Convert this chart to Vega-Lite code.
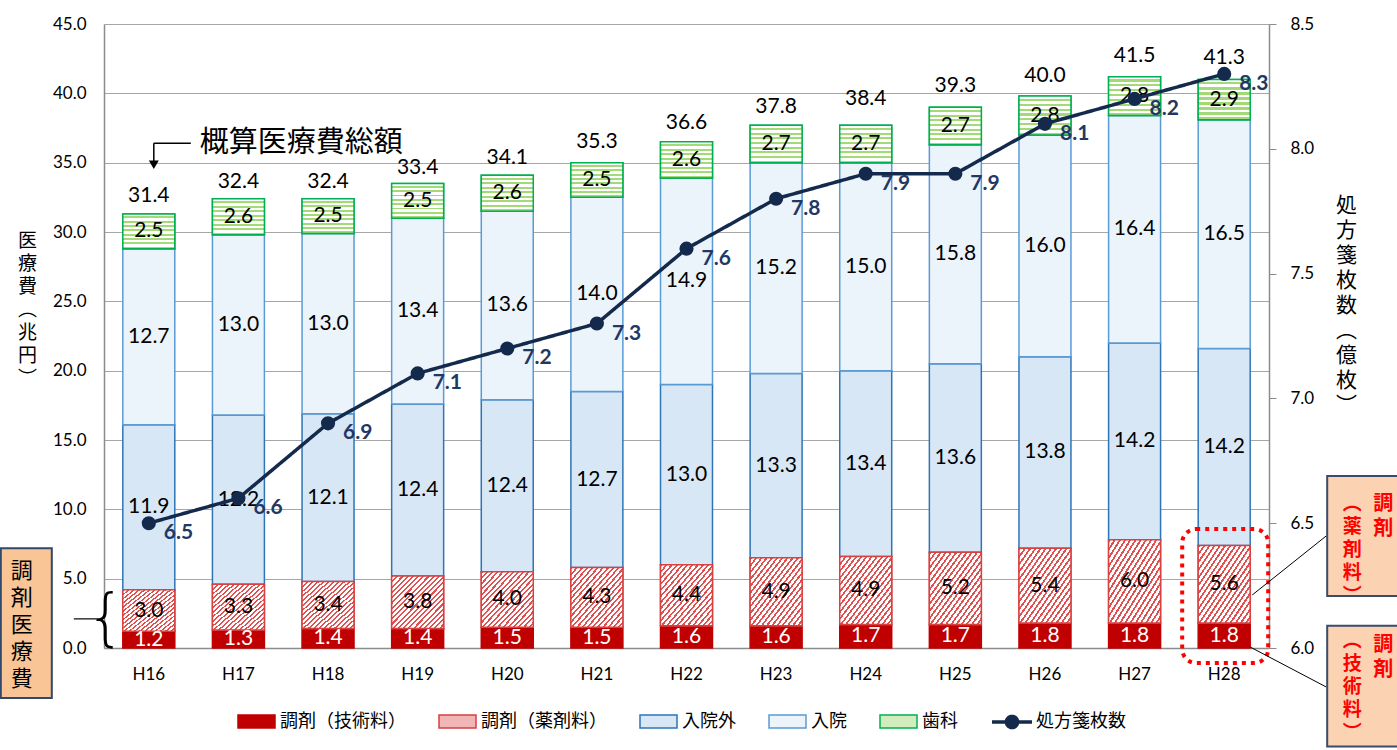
{
  "$schema": "https://vega.github.io/schema/vega-lite/v6.json",
  "width": 1165,
  "height": 624,
  "autosize": {"type": "none"},
  "padding": {"left": 104, "top": 24, "right": 128, "bottom": 102},
  "background": "white",
  "datasets": {
    "bars": [
      {"year":"H16","series":"調剤（技術料）","value":1.2,"ord":1},{"year":"H16","series":"調剤（薬剤料）","value":3.0,"ord":2},{"year":"H16","series":"入院外","value":11.9,"ord":3},{"year":"H16","series":"入院","value":12.7,"ord":4},{"year":"H16","series":"歯科","value":2.5,"ord":5},
      {"year":"H17","series":"調剤（技術料）","value":1.3,"ord":1},{"year":"H17","series":"調剤（薬剤料）","value":3.3,"ord":2},{"year":"H17","series":"入院外","value":12.2,"ord":3},{"year":"H17","series":"入院","value":13.0,"ord":4},{"year":"H17","series":"歯科","value":2.6,"ord":5},
      {"year":"H18","series":"調剤（技術料）","value":1.4,"ord":1},{"year":"H18","series":"調剤（薬剤料）","value":3.4,"ord":2},{"year":"H18","series":"入院外","value":12.1,"ord":3},{"year":"H18","series":"入院","value":13.0,"ord":4},{"year":"H18","series":"歯科","value":2.5,"ord":5},
      {"year":"H19","series":"調剤（技術料）","value":1.4,"ord":1},{"year":"H19","series":"調剤（薬剤料）","value":3.8,"ord":2},{"year":"H19","series":"入院外","value":12.4,"ord":3},{"year":"H19","series":"入院","value":13.4,"ord":4},{"year":"H19","series":"歯科","value":2.5,"ord":5},
      {"year":"H20","series":"調剤（技術料）","value":1.5,"ord":1},{"year":"H20","series":"調剤（薬剤料）","value":4.0,"ord":2},{"year":"H20","series":"入院外","value":12.4,"ord":3},{"year":"H20","series":"入院","value":13.6,"ord":4},{"year":"H20","series":"歯科","value":2.6,"ord":5},
      {"year":"H21","series":"調剤（技術料）","value":1.5,"ord":1},{"year":"H21","series":"調剤（薬剤料）","value":4.3,"ord":2},{"year":"H21","series":"入院外","value":12.7,"ord":3},{"year":"H21","series":"入院","value":14.0,"ord":4},{"year":"H21","series":"歯科","value":2.5,"ord":5},
      {"year":"H22","series":"調剤（技術料）","value":1.6,"ord":1},{"year":"H22","series":"調剤（薬剤料）","value":4.4,"ord":2},{"year":"H22","series":"入院外","value":13.0,"ord":3},{"year":"H22","series":"入院","value":14.9,"ord":4},{"year":"H22","series":"歯科","value":2.6,"ord":5},
      {"year":"H23","series":"調剤（技術料）","value":1.6,"ord":1},{"year":"H23","series":"調剤（薬剤料）","value":4.9,"ord":2},{"year":"H23","series":"入院外","value":13.3,"ord":3},{"year":"H23","series":"入院","value":15.2,"ord":4},{"year":"H23","series":"歯科","value":2.7,"ord":5},
      {"year":"H24","series":"調剤（技術料）","value":1.7,"ord":1},{"year":"H24","series":"調剤（薬剤料）","value":4.9,"ord":2},{"year":"H24","series":"入院外","value":13.4,"ord":3},{"year":"H24","series":"入院","value":15.0,"ord":4},{"year":"H24","series":"歯科","value":2.7,"ord":5},
      {"year":"H25","series":"調剤（技術料）","value":1.7,"ord":1},{"year":"H25","series":"調剤（薬剤料）","value":5.2,"ord":2},{"year":"H25","series":"入院外","value":13.6,"ord":3},{"year":"H25","series":"入院","value":15.8,"ord":4},{"year":"H25","series":"歯科","value":2.7,"ord":5},
      {"year":"H26","series":"調剤（技術料）","value":1.8,"ord":1},{"year":"H26","series":"調剤（薬剤料）","value":5.4,"ord":2},{"year":"H26","series":"入院外","value":13.8,"ord":3},{"year":"H26","series":"入院","value":16.0,"ord":4},{"year":"H26","series":"歯科","value":2.8,"ord":5},
      {"year":"H27","series":"調剤（技術料）","value":1.8,"ord":1},{"year":"H27","series":"調剤（薬剤料）","value":6.0,"ord":2},{"year":"H27","series":"入院外","value":14.2,"ord":3},{"year":"H27","series":"入院","value":16.4,"ord":4},{"year":"H27","series":"歯科","value":2.8,"ord":5},
      {"year":"H28","series":"調剤（技術料）","value":1.8,"ord":1},{"year":"H28","series":"調剤（薬剤料）","value":5.6,"ord":2},{"year":"H28","series":"入院外","value":14.2,"ord":3},{"year":"H28","series":"入院","value":16.5,"ord":4},{"year":"H28","series":"歯科","value":2.9,"ord":5}
    ],
    "main": [
      {"year":"H16","total":31.4,"rx":6.5},{"year":"H17","total":32.4,"rx":6.6},{"year":"H18","total":32.4,"rx":6.9},
      {"year":"H19","total":33.4,"rx":7.1},{"year":"H20","total":34.1,"rx":7.2},{"year":"H21","total":35.3,"rx":7.3},
      {"year":"H22","total":36.6,"rx":7.6},{"year":"H23","total":37.8,"rx":7.8},{"year":"H24","total":38.4,"rx":7.9},
      {"year":"H25","total":39.3,"rx":7.9},{"year":"H26","total":40.0,"rx":8.1},{"year":"H27","total":41.5,"rx":8.2},
      {"year":"H28","total":41.3,"rx":8.3}
    ]
  },
  "config": {
    "view": {"stroke": null},
    "axis": {"labelFont": "Lato", "labelFontSize": 17, "labelColor": "#000000", "domainColor": "#8C8C8C", "domainWidth": 1.5, "gridColor": "#A6A6A6", "tickColor": "#8C8C8C", "titleFont": "Noto Sans CJK JP", "titleColor": "#000000", "titleFontWeight": "normal"},
    "legend": {"labelFont": "Noto Sans CJK JP", "labelFontSize": 18, "labelColor": "#000000"}
  },
  "resolve": {"scale": {"y": "independent"}, "axis": {"y": "independent"}},
  "layer": [
    {
      "layer": [
        {
          "data": {"name": "bars"},
          "mark": {"type": "bar", "strokeWidth": 1.5},
          "encoding": {
            "x": {"field": "year", "type": "nominal", "title": null, "scale": {"paddingInner": 0.42, "paddingOuter": 0.21}, "axis": {"labelAngle": 0, "ticks": false, "labelPadding": 18, "labelFontSize": 17}},
            "y": {"field": "value", "type": "quantitative", "stack": "zero", "scale": {"domain": [0, 45], "nice": false},
              "axis": {"orient": "left", "values": [0,5,10,15,20,25,30,35,40,45], "format": ".1f", "ticks": false, "labelPadding": 18, "grid": true, "domain": true,
                "title": ["医","療","費","︵","兆","円","︶"], "titleAngle": 0, "titleFontSize": 19, "titleLineHeight": 23, "titleX": -77, "titleY": 216, "titleBaseline": "middle", "titleAlign": "center"}},
            "fill": {"field": "series", "type": "nominal",
              "scale": {"domain": ["調剤（技術料）","調剤（薬剤料）","入院外","入院","歯科"], "range": ["#C00000", "#F2B5B5", "#D8E7F6", "#EBF3FB", "#D2ECBE"]},
              "legend": {"orient": "none", "legendX": 133, "legendY": 678, "direction": "horizontal", "title": null, "symbolType": "M-1,-0.35H1V0.35H-1Z", "symbolSize": 1369, "symbolStrokeWidth": 1.5, "labelOffset": 4, "columnPadding": 30}},
            "stroke": {"field": "series", "type": "nominal",
              "scale": {"domain": ["調剤（技術料）","調剤（薬剤料）","入院外","入院","歯科"], "range": ["#C00000","#D94040","#2E75B6","#5B9BD5","#00B050"]},
              "legend": {"orient": "none", "legendX": 133, "legendY": 678, "direction": "horizontal", "title": null, "symbolType": "M-1,-0.35H1V0.35H-1Z", "symbolSize": 1369, "symbolStrokeWidth": 1.5, "labelOffset": 4, "columnPadding": 30}},
            "order": {"field": "ord", "type": "quantitative"}
          }
        },
        {
          "data": {"name": "bars"},
          "mark": {"type": "bar", "strokeWidth": 1.5},
          "encoding": {
            "x": {"field": "year", "type": "nominal", "title": null},
            "y": {"field": "value", "type": "quantitative", "stack": "zero"},
            "detail": {"field": "series", "type": "nominal"},
            "order": {"field": "ord", "type": "quantitative"},
            "fill": {"condition": [
              {"test": "datum.series === '調剤（薬剤料）'", "value": {"gradient": "linear", "x1": 0, "y1": 0, "x2": 1, "y2": 1, "stops": [
                {"offset":0,"color":"#E05050"},{"offset":0.02,"color":"#E05050"},{"offset":0.02,"color":"#FFFFFF"},{"offset":0.05,"color":"#FFFFFF"},
                {"offset":0.05,"color":"#E05050"},{"offset":0.07,"color":"#E05050"},{"offset":0.07,"color":"#FFFFFF"},{"offset":0.10,"color":"#FFFFFF"},
                {"offset":0.10,"color":"#E05050"},{"offset":0.12,"color":"#E05050"},{"offset":0.12,"color":"#FFFFFF"},{"offset":0.15,"color":"#FFFFFF"},
                {"offset":0.15,"color":"#E05050"},{"offset":0.17,"color":"#E05050"},{"offset":0.17,"color":"#FFFFFF"},{"offset":0.20,"color":"#FFFFFF"},
                {"offset":0.20,"color":"#E05050"},{"offset":0.22,"color":"#E05050"},{"offset":0.22,"color":"#FFFFFF"},{"offset":0.25,"color":"#FFFFFF"},
                {"offset":0.25,"color":"#E05050"},{"offset":0.27,"color":"#E05050"},{"offset":0.27,"color":"#FFFFFF"},{"offset":0.30,"color":"#FFFFFF"},
                {"offset":0.30,"color":"#E05050"},{"offset":0.32,"color":"#E05050"},{"offset":0.32,"color":"#FFFFFF"},{"offset":0.35,"color":"#FFFFFF"},
                {"offset":0.35,"color":"#E05050"},{"offset":0.37,"color":"#E05050"},{"offset":0.37,"color":"#FFFFFF"},{"offset":0.40,"color":"#FFFFFF"},
                {"offset":0.40,"color":"#E05050"},{"offset":0.42,"color":"#E05050"},{"offset":0.42,"color":"#FFFFFF"},{"offset":0.45,"color":"#FFFFFF"},
                {"offset":0.45,"color":"#E05050"},{"offset":0.47,"color":"#E05050"},{"offset":0.47,"color":"#FFFFFF"},{"offset":0.50,"color":"#FFFFFF"},
                {"offset":0.50,"color":"#E05050"},{"offset":0.52,"color":"#E05050"},{"offset":0.52,"color":"#FFFFFF"},{"offset":0.55,"color":"#FFFFFF"},
                {"offset":0.55,"color":"#E05050"},{"offset":0.57,"color":"#E05050"},{"offset":0.57,"color":"#FFFFFF"},{"offset":0.60,"color":"#FFFFFF"},
                {"offset":0.60,"color":"#E05050"},{"offset":0.62,"color":"#E05050"},{"offset":0.62,"color":"#FFFFFF"},{"offset":0.65,"color":"#FFFFFF"},
                {"offset":0.65,"color":"#E05050"},{"offset":0.67,"color":"#E05050"},{"offset":0.67,"color":"#FFFFFF"},{"offset":0.70,"color":"#FFFFFF"},
                {"offset":0.70,"color":"#E05050"},{"offset":0.72,"color":"#E05050"},{"offset":0.72,"color":"#FFFFFF"},{"offset":0.75,"color":"#FFFFFF"},
                {"offset":0.75,"color":"#E05050"},{"offset":0.77,"color":"#E05050"},{"offset":0.77,"color":"#FFFFFF"},{"offset":0.80,"color":"#FFFFFF"},
                {"offset":0.80,"color":"#E05050"},{"offset":0.82,"color":"#E05050"},{"offset":0.82,"color":"#FFFFFF"},{"offset":0.85,"color":"#FFFFFF"},
                {"offset":0.85,"color":"#E05050"},{"offset":0.87,"color":"#E05050"},{"offset":0.87,"color":"#FFFFFF"},{"offset":0.90,"color":"#FFFFFF"},
                {"offset":0.90,"color":"#E05050"},{"offset":0.92,"color":"#E05050"},{"offset":0.92,"color":"#FFFFFF"},{"offset":0.95,"color":"#FFFFFF"},
                {"offset":0.95,"color":"#E05050"},{"offset":0.97,"color":"#E05050"},{"offset":0.97,"color":"#FFFFFF"},{"offset":1,"color":"#FFFFFF"}
              ]}},
              {"test": "datum.series === '歯科'", "value": {"gradient": "linear", "x1": 0, "y1": 0, "x2": 0, "y2": 1, "stops": [
                {"offset":0,"color":"#FFFFFF"},{"offset":0.07,"color":"#FFFFFF"},{"offset":0.07,"color":"#A3D977"},{"offset":0.125,"color":"#A3D977"},
                {"offset":0.125,"color":"#FFFFFF"},{"offset":0.195,"color":"#FFFFFF"},{"offset":0.195,"color":"#A3D977"},{"offset":0.25,"color":"#A3D977"},
                {"offset":0.25,"color":"#FFFFFF"},{"offset":0.32,"color":"#FFFFFF"},{"offset":0.32,"color":"#A3D977"},{"offset":0.375,"color":"#A3D977"},
                {"offset":0.375,"color":"#FFFFFF"},{"offset":0.445,"color":"#FFFFFF"},{"offset":0.445,"color":"#A3D977"},{"offset":0.5,"color":"#A3D977"},
                {"offset":0.5,"color":"#FFFFFF"},{"offset":0.57,"color":"#FFFFFF"},{"offset":0.57,"color":"#A3D977"},{"offset":0.625,"color":"#A3D977"},
                {"offset":0.625,"color":"#FFFFFF"},{"offset":0.695,"color":"#FFFFFF"},{"offset":0.695,"color":"#A3D977"},{"offset":0.75,"color":"#A3D977"},
                {"offset":0.75,"color":"#FFFFFF"},{"offset":0.82,"color":"#FFFFFF"},{"offset":0.82,"color":"#A3D977"},{"offset":0.875,"color":"#A3D977"},
                {"offset":0.875,"color":"#FFFFFF"},{"offset":0.945,"color":"#FFFFFF"},{"offset":0.945,"color":"#A3D977"},{"offset":1,"color":"#A3D977"}
              ]}}
            ], "value": null},
            "stroke": {"condition": [
              {"test": "datum.series === '調剤（薬剤料）'", "value": "#D94040"},
              {"test": "datum.series === '歯科'", "value": "#00B050"}
            ], "value": null}
          }
        },
        {
          "data": {"name": "bars"},
          "mark": {"type": "text", "font": "Lato", "fontSize": 21, "baseline": "middle"},
          "encoding": {
            "x": {"field": "year", "type": "nominal", "title": null},
            "y": {"field": "value", "type": "quantitative", "stack": "zero", "bandPosition": 0.5},
            "detail": {"field": "series", "type": "nominal"},
            "order": {"field": "ord", "type": "quantitative"},
            "text": {"field": "value", "type": "quantitative", "format": ".1f"},
            "color": {"condition": {"test": "datum.series === '調剤（技術料）'", "value": "#FFFFFF"}, "value": "#000000"}
          }
        },
        {
          "data": {"name": "main"},
          "mark": {"type": "text", "font": "Lato", "fontSize": 21, "baseline": "bottom", "dy": -7, "color": "#000000"},
          "encoding": {
            "x": {"field": "year", "type": "nominal", "title": null},
            "y": {"field": "total", "type": "quantitative"},
            "text": {"field": "total", "type": "quantitative", "format": ".1f"}
          }
        },
        {
          "data": {"values": [{}]},
          "mark": {"type": "text", "text": "概算医療費総額", "font": "Noto Sans CJK JP", "fontSize": 29, "align": "left", "baseline": "middle", "dx": 51, "color": "#000000"},
          "encoding": {"x": {"datum": "H16", "type": "nominal"}, "y": {"datum": 36.4, "type": "quantitative"}}
        },
        {
          "data": {"values": [{}]},
          "mark": {"type": "rule", "color": "#000000", "strokeWidth": 1.5, "xOffset": 5, "x2Offset": 42},
          "encoding": {"x": {"datum": "H16", "type": "nominal"}, "x2": {"datum": "H16"}, "y": {"datum": 36.4, "type": "quantitative"}}
        },
        {
          "data": {"values": [{}]},
          "mark": {"type": "rule", "color": "#000000", "strokeWidth": 1.5, "xOffset": 5},
          "encoding": {"x": {"datum": "H16", "type": "nominal"}, "y": {"datum": 36.4, "type": "quantitative"}, "y2": {"datum": 35.1}}
        },
        {
          "data": {"values": [{}]},
          "mark": {"type": "point", "shape": "triangle-down", "filled": true, "size": 100, "color": "#000000", "opacity": 1, "xOffset": 5},
          "encoding": {"x": {"datum": "H16", "type": "nominal"}, "y": {"datum": 34.85, "type": "quantitative"}}
        },
        {
          "data": {"values": [{}]},
          "mark": {"type": "rect", "fill": "#F9C496", "stroke": "#2F4A6D", "strokeWidth": 2, "xOffset": -148, "x2Offset": -97},
          "encoding": {"x": {"datum": "H16", "type": "nominal", "bandPosition": 0.5}, "x2": {"datum": "H16", "bandPosition": 0.5}, "y": {"datum": 7.2, "type": "quantitative"}, "y2": {"datum": -3.6}}
        },
        {
          "data": {"values": [{}]},
          "mark": {"type": "text", "text": ["調","剤","医","療","費"], "font": "Noto Sans CJK JP", "fontSize": 22, "lineHeight": 27, "align": "center", "baseline": "middle", "dx": -127, "color": "#000000"},
          "encoding": {"x": {"datum": "H16", "type": "nominal"}, "y": {"datum": 5.55, "type": "quantitative"}}
        },
        {
          "data": {"values": [{}]},
          "mark": {"type": "text", "text": "{", "font": "DejaVu Sans", "fontWeight": 200, "fontSize": 62, "align": "center", "baseline": "middle", "dx": -43, "color": "#000000"},
          "encoding": {"x": {"datum": "H16", "type": "nominal"}, "y": {"datum": 2.1, "type": "quantitative"}}
        },
        {
          "data": {"values": [{}]},
          "mark": {"type": "rule", "color": "#000000", "strokeWidth": 1.2, "xOffset": -75, "x2Offset": -52},
          "encoding": {"x": {"datum": "H16", "type": "nominal"}, "x2": {"datum": "H16"}, "y": {"datum": 2.1, "type": "quantitative"}}
        },
        {
          "data": {"values": [{}]},
          "mark": {"type": "rect", "fill": null, "stroke": "#FF0000", "strokeWidth": 4, "strokeDash": [4, 5], "cornerRadius": 14, "xOffset": -42, "x2Offset": 44},
          "encoding": {"x": {"datum": "H28", "type": "nominal", "bandPosition": 0.5}, "x2": {"datum": "H28", "bandPosition": 0.5}, "y": {"datum": 8.58, "type": "quantitative"}, "y2": {"datum": -1.08}}
        },
        {
          "data": {"values": [{}]},
          "mark": {"type": "rule", "color": "#000000", "strokeWidth": 1, "xOffset": 102, "x2Offset": 28},
          "encoding": {"x": {"datum": "H28", "type": "nominal"}, "x2": {"datum": "H28"}, "y": {"datum": 8.08, "type": "quantitative"}, "y2": {"datum": 3.82}}
        },
        {
          "data": {"values": [{}]},
          "mark": {"type": "rule", "color": "#000000", "strokeWidth": 1, "xOffset": 102, "x2Offset": 26},
          "encoding": {"x": {"datum": "H28", "type": "nominal"}, "x2": {"datum": "H28"}, "y": {"datum": -2.81, "type": "quantitative"}, "y2": {"datum": 0.07}}
        },
        {
          "data": {"values": [{}]},
          "mark": {"type": "rect", "fill": "#FBD3B2", "stroke": "#3A4B6B", "strokeWidth": 2, "xOffset": 103, "x2Offset": 260},
          "encoding": {"x": {"datum": "H28", "type": "nominal", "bandPosition": 0.5}, "x2": {"datum": "H28", "bandPosition": 0.5}, "y": {"datum": 12.4, "type": "quantitative"}, "y2": {"datum": 3.75}}
        },
        {
          "data": {"values": [{}]},
          "mark": {"type": "rect", "fill": "#FBD3B2", "stroke": "#3A4B6B", "strokeWidth": 2, "xOffset": 103, "x2Offset": 260},
          "encoding": {"x": {"datum": "H28", "type": "nominal", "bandPosition": 0.5}, "x2": {"datum": "H28", "bandPosition": 0.5}, "y": {"datum": 1.6, "type": "quantitative"}, "y2": {"datum": -7.1}}
        },
        {
          "data": {"values": [{}]},
          "mark": {"type": "text", "text": ["︵","薬","剤","料","︶"], "font": "Noto Sans CJK JP", "fontWeight": "bold", "fontSize": 19, "lineHeight": 23, "align": "center", "baseline": "middle", "dx": 128, "color": "#FF0000"},
          "encoding": {"x": {"datum": "H28", "type": "nominal"}, "y": {"datum": 10.4, "type": "quantitative"}}
        },
        {
          "data": {"values": [{}]},
          "mark": {"type": "text", "text": ["調","剤"], "font": "Noto Sans CJK JP", "fontWeight": "bold", "fontSize": 20, "lineHeight": 25, "align": "center", "baseline": "middle", "dx": 159, "color": "#FF0000"},
          "encoding": {"x": {"datum": "H28", "type": "nominal"}, "y": {"datum": 10.4, "type": "quantitative"}}
        },
        {
          "data": {"values": [{}]},
          "mark": {"type": "text", "text": ["︵","技","術","料","︶"], "font": "Noto Sans CJK JP", "fontWeight": "bold", "fontSize": 19, "lineHeight": 23, "align": "center", "baseline": "middle", "dx": 128, "color": "#FF0000"},
          "encoding": {"x": {"datum": "H28", "type": "nominal"}, "y": {"datum": 0.5, "type": "quantitative"}}
        },
        {
          "data": {"values": [{}]},
          "mark": {"type": "text", "text": ["調","剤"], "font": "Noto Sans CJK JP", "fontWeight": "bold", "fontSize": 20, "lineHeight": 25, "align": "center", "baseline": "middle", "dx": 159, "color": "#FF0000"},
          "encoding": {"x": {"datum": "H28", "type": "nominal"}, "y": {"datum": 0.22, "type": "quantitative"}}
        }
      ]
    },
    {
      "data": {"name": "main"},
      "layer": [
        {
          "mark": {"type": "line", "color": "#142A4D", "strokeWidth": 3.5, "point": {"filled": true, "size": 200, "color": "#142A4D"}},
          "encoding": {
            "x": {"field": "year", "type": "nominal", "title": null},
            "y": {"field": "rx", "type": "quantitative", "scale": {"domain": [6, 8.5], "nice": false, "zero": false},
              "axis": {"orient": "right", "values": [6, 6.5, 7, 7.5, 8, 8.5], "format": ".1f", "ticks": true, "tickSize": 7, "labelPadding": 14, "grid": false, "domain": true,
                "title": ["処","方","箋","枚","数","︵","億","枚","︶"], "titleAngle": 0, "titleFontSize": 21, "titleLineHeight": 25, "titleX": 77, "titleY": 181, "titleBaseline": "middle", "titleAlign": "center"}},
            "strokeDash": {"datum": "処方箋枚数", "scale": {"range": [[1, 0]]},
              "legend": {"orient": "none", "legendX": 886, "legendY": 676, "title": null, "symbolType": "M-1,0H1M0.28,0A0.28,0.28,0,1,1,-0.28,0A0.28,0.28,0,1,1,0.28,0", "symbolSize": 1600, "symbolStrokeWidth": 3.5, "symbolStrokeColor": "#142A4D", "symbolFillColor": "#142A4D", "labelOffset": 2,
                "encode": {"symbols": {"update": {"fill": {"value": "#142A4D"}, "stroke": {"value": "#142A4D"}, "strokeDash": {"value": [1, 0]}}}}}}
          }
        },
        {
          "mark": {"type": "text", "font": "Lato", "fontWeight": "bold", "fontSize": 21, "align": "left", "baseline": "middle", "dx": 15, "dy": 10, "color": "#1F3864"},
          "encoding": {
            "x": {"field": "year", "type": "nominal", "title": null},
            "y": {"field": "rx", "type": "quantitative"},
            "text": {"field": "rx", "type": "quantitative", "format": ".1f"}
          }
        }
      ]
    }
  ]
}
